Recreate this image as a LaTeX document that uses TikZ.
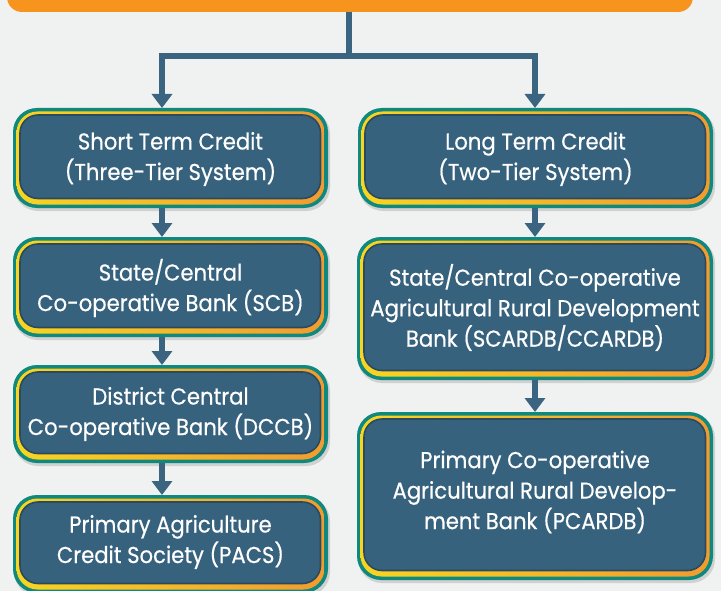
\documentclass[tikz,border=0pt]{standalone}
\usepackage{fontspec}
\setmainfont[FakeStretch=0.92,FakeBold=0.5]{Poppins}
\usetikzlibrary{arrows.meta,fit}
\definecolor{bgc}{HTML}{F0F1F1}
\definecolor{orangec}{HTML}{F7941E}
\definecolor{tealc}{HTML}{0F897E}
\definecolor{goldl}{HTML}{F8D522}
\definecolor{goldr}{HTML}{F29B30}
\definecolor{bluec}{HTML}{37627D}
\definecolor{bluedark}{HTML}{2A4A5D}
\definecolor{linec}{HTML}{3A6480}
\tikzset{
  conn/.style={draw=linec, line width=6bp, -{Triangle[width=20bp,length=14bp]}},
  plainline/.style={draw=linec, line width=6bp},
  boxtext/.style={text=white, align=center, font=\fontsize{23bp}{30.5bp}\selectfont, inner sep=0pt},
  shapefit/.style={inner sep=0pt, outer sep=0pt}
}
\newcommand\cbox[7]{%
  \fill[black!18, rounded corners=24bp] (#2+1,#3+2) rectangle (#4+2,#5+3);
  \fill[tealc, rounded corners=24bp] (#2,#3) rectangle (#4,#5);
  \shade[left color=goldl, right color=goldr, rounded corners=21bp] (#2+3.5,#3+3.5) rectangle (#4-3.5,#5-3.5);
  \draw[fill=bluec, draw=bluedark, line width=1.6bp, rounded corners=18bp] (#2+7,#3+7) rectangle (#4-7.5,#5-9.5);
  \node[shapefit, fit={(#2,#3) (#4,#5)}] (#1) {};
  \node[boxtext] (#1t) at ({(#2+#4)/2},{(#3+#5)/2+#7}) {#6};
}
\begin{document}
\begin{tikzpicture}[x=1bp,y=-1bp]
\useasboundingbox (0,0) rectangle (721,591);
\clip (0,0) rectangle (721,591);
\fill[bgc] (0,0) rectangle (721,591);
% top bar
\fill[orangec, rounded corners=15bp] (7,-30) rectangle (693,12);
\node[shapefit, fit={(7,-30) (693,12)}] (top) {};
% boxes
\cbox{l1}{13}{108}{328}{208}{Short Term Credit\\(Three-Tier System)}{1}
\cbox{l2}{13}{237}{328}{337}{State/Central\\Co-operative Bank (SCB)}{1}
\cbox{l3}{13}{365}{328}{463}{District Central\\Co-operative Bank (DCCB)}{0}
\cbox{l4}{13}{495}{328}{593}{Primary Agriculture\\Credit Society (PACS)}{-2}
\cbox{r1}{358}{108}{713}{208}{Long Term Credit\\(Two-Tier System)}{1}
\cbox{r2}{357}{237}{713}{380}{State/Central Co-operative\\Agricultural Rural Development\\Bank (SCARDB/CCARDB)}{-1}
\cbox{r3}{357}{412}{713}{580}{Primary Co-operative\\Agricultural Rural Develop-\\ment Bank (PCARDB)}{-4}
% connectors
\coordinate (lx) at (162,0);
\coordinate (rx) at (535,0);
\coordinate (j) at (348.5,56);
\draw[plainline] (top.south -| j) -- (j);
\draw[conn] ([xshift=3bp]j) -| (l1.north -| lx);
\draw[conn] ([xshift=-3bp]j) -| (r1.north -| rx);
\draw[conn] (l1.south -| lx) -- (l2.north -| lx);
\draw[conn] (l2.south -| lx) -- (l3.north -| lx);
\draw[conn] (l3.south -| lx) -- (l4.north -| lx);
\draw[conn] (r1.south -| rx) -- (r2.north -| rx);
\draw[conn] (r2.south -| rx) -- (r3.north -| rx);
\end{tikzpicture}
\end{document}
